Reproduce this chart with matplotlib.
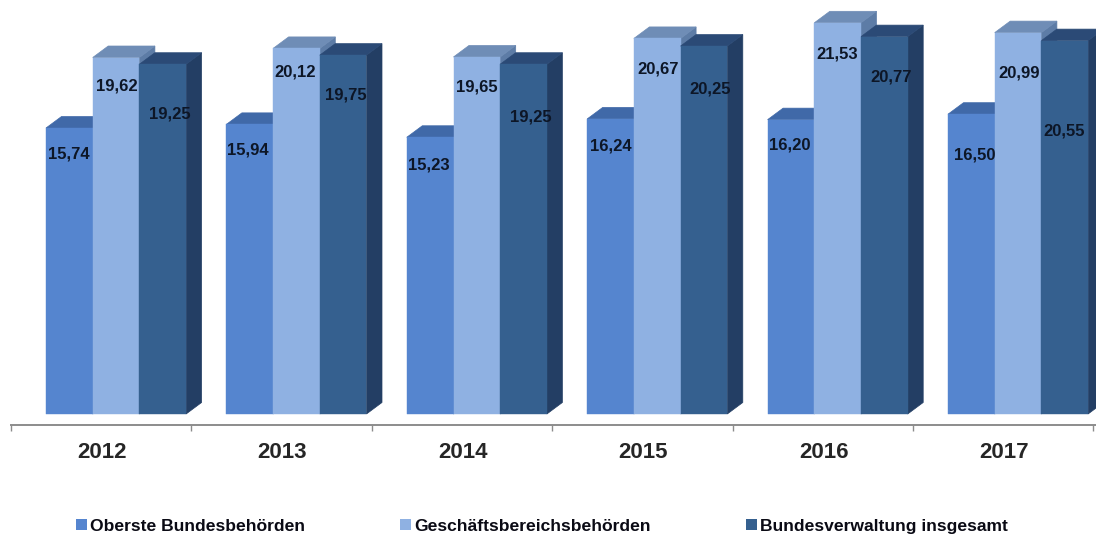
import matplotlib
matplotlib.use('Agg')
import matplotlib.pyplot as plt
from matplotlib.patches import Patch

plt.rcParams['font.family'] = ['Liberation Sans', 'DejaVu Sans']

years = ['2012', '2013', '2014', '2015', '2016', '2017']
names = ['Oberste Bundesbehörden', 'Geschäftsbereichsbehörden', 'Bundesverwaltung insgesamt']
oberste = [15.74, 15.94, 15.23, 16.24, 16.20, 16.50]
geschaeft = [19.62, 20.12, 19.65, 20.67, 21.53, 20.99]
gesamt = [19.25, 19.75, 19.25, 20.25, 20.77, 20.55]

front = ['#5585cf', '#8fb1e2', '#35608f']
top = ['#4069a8', '#6f8db6', '#2b4a76']
side = ['#3f66a0', '#5d7ca6', '#233e64']

# label nudges in pixels from the centre of the bar top
drop = [[26, 28, 50], [26, 24, 40], [28, 30, 53], [27, 31, 43], [25, 31, 40], [41, 40, 90]]
shift = [[-1, 1, 7], [-2, -1, 3], [-1, 0, 7], [0, 1, 6], [-1, 0, 7], [3, 1, -1]]

GROUP = 180.4      # px per year
PX_Y = 18.17       # px per value unit
W = 46.7 / GROUP
DX = 15.5 / GROUP
DY = 11.5 / PX_Y


def draw_bar(ax, x, v, i):
    ax.fill([x + W, x + W + DX, x + W + DX, x + W], [0, DY, v + DY, v],
            facecolor=side[i], edgecolor=side[i], linewidth=0.5, zorder=2 + i * 2)
    ax.fill([x, x + DX, x + W + DX, x + W], [v, v + DY, v + DY, v],
            facecolor=top[i], edgecolor=top[i], linewidth=0.5, zorder=2 + i * 2)
    ax.bar(x, v, W, align='edge', color=front[i], edgecolor=front[i], linewidth=0.3,
           zorder=3 + i * 2)


fig = plt.figure(figsize=(10.96, 5.35), dpi=100)
ax = fig.add_axes([0, 0, 1, 1])
ax.set_xlim(-46 / GROUP, (1096 - 46) / GROUP)
ax.set_ylim(-121 / PX_Y, 414 / PX_Y)

for s, vals in enumerate([oberste, geschaeft, gesamt]):
    for g, v in enumerate(vals):
        x = g + s * W
        draw_bar(ax, x, v, s)
        ax.annotate(f'{v:.2f}'.replace('.', ','), (x + W / 2, v),
                    xytext=(shift[g][s], -drop[g][s]), textcoords='offset pixels',
                    ha='center', va='center', fontsize=12, fontweight='bold',
                    color='#0d1626', zorder=10)

for sp in ['top', 'left', 'right']:
    ax.spines[sp].set_visible(False)
ax.spines['bottom'].set_position(('data', -11 / PX_Y))
ax.spines['bottom'].set_color('#8c8c8c')
ax.spines['bottom'].set_linewidth(1.4)
ax.spines['bottom'].set_bounds(-35 / GROUP, (1096 - 46) / GROUP)
ax.patch.set_alpha(0)
ax.yaxis.set_visible(False)

ax.set_xticks([g + 56 / GROUP for g in range(len(years))])
ax.set_xticklabels(years, fontsize=16, fontweight='bold', color='#262626')
ax.tick_params(axis='x', which='major', length=0, pad=12)
ax.set_xticks([g - 35 / GROUP for g in range(len(years) + 1)], minor=True)
ax.tick_params(axis='x', which='minor', length=4, width=1, color='#8c8c8c')

handles = [Patch(color=c, linewidth=0) for c in front]
ax.legend(handles, names, loc='lower left', bbox_to_anchor=(67 / 1096, -0.014),
          ncol=3, frameon=False, handlelength=0.62, handleheight=0.62, handletextpad=0.22,
          columnspacing=5.4, prop={'size': 12.6, 'weight': 'bold'}, labelcolor='#0a0a14',
          borderaxespad=0.1)

fig.savefig('out.png', dpi=100)
